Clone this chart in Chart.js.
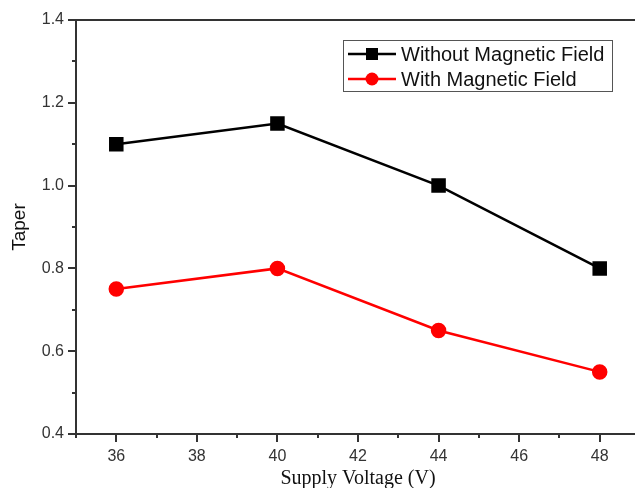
<!DOCTYPE html>
<html>
<head>
<meta charset="utf-8">
<script src="https://cdn.jsdelivr.net/npm/chart.js@4"></script>
<style>
  html, body { margin: 0; padding: 0; background: #fff; overflow: hidden; }
  #wrap { width: 640px; height: 488px; }
</style>
</head>
<body>
<div id="wrap"><canvas id="taper" width="640" height="488"></canvas></div>
<script>
// data
const voltages = [36, 40, 44, 48];
const withoutField = [1.1, 1.15, 1.0, 0.8];
const withField = [0.75, 0.8, 0.65, 0.55];
const seriesNames = ["Without Magnetic Field", "With Magnetic Field"];

const xTickLabels = [36, 38, 40, 42, 44, 46, 48];
const yTickLabels = [0.4, 0.6, 0.8, 1.0, 1.2, 1.4];

function pts(ys) {
  return voltages.map(function (v, i) { return { x: v, y: ys[i] }; });
}

// tick marks (major/minor) + top frame line + boxed legend
const frame = {
  id: "frame",
  afterDraw: function (chart) {
    const ctx = chart.ctx;
    const a = chart.chartArea;
    const xs = chart.scales.x;
    const ys = chart.scales.y;
    ctx.save();
    ctx.strokeStyle = "#333";
    ctx.lineWidth = 2;
    ctx.beginPath();
    ctx.moveTo(a.left, a.top);
    ctx.lineTo(a.right + 2, a.top);
    xs.ticks.forEach(function (t) {
      const px = Math.round(xs.getPixelForValue(t.value));
      const len = t.value % 2 === 0 ? 8 : 4;
      ctx.moveTo(px, a.bottom);
      ctx.lineTo(px, a.bottom + len);
    });
    ys.ticks.forEach(function (t) {
      const py = Math.round(ys.getPixelForValue(t.value));
      const major = Math.abs(Math.round(t.value * 10) % 2) === 0;
      ctx.moveTo(a.left, py);
      ctx.lineTo(a.left - (major ? 8 : 4), py);
    });
    ctx.stroke();

    // legend box
    const bx = 343, by = 40, bw = 269, bh = 51;
    ctx.fillStyle = "#fff";
    ctx.fillRect(bx, by, bw, bh);
    ctx.strokeStyle = "#555";
    ctx.lineWidth = 1;
    ctx.strokeRect(bx + 0.5, by + 0.5, bw, bh);
    ctx.font = "20px 'Liberation Sans', Arial, sans-serif";
    ctx.textBaseline = "middle";
    chart.data.datasets.forEach(function (ds, i) {
      const cy = by + 14 + i * 25;
      ctx.strokeStyle = ds.borderColor;
      ctx.lineWidth = 2.5;
      ctx.beginPath();
      ctx.moveTo(bx + 5, cy);
      ctx.lineTo(bx + 53, cy);
      ctx.stroke();
      ctx.fillStyle = ds.borderColor;
      if (ds.pointStyle === "rect") {
        ctx.fillRect(bx + 23, cy - 6, 12, 12);
      } else {
        ctx.beginPath();
        ctx.arc(bx + 29, cy, 6.5, 0, Math.PI * 2);
        ctx.fill();
      }
      ctx.fillStyle = "#111";
      ctx.fillText(ds.label, bx + 58, cy + 1);
    });
    ctx.restore();
  }
};

document.addEventListener("DOMContentLoaded", function () {
  const el = document.getElementById("taper");
  new Chart(el, {
    type: "line",
    data: {
      datasets: [
        {
          label: seriesNames[0],
          data: pts(withoutField),
          borderColor: "#000",
          backgroundColor: "#000",
          borderWidth: 2.5,
          pointStyle: "rect",
          pointRadius: 8.5,
          pointHoverRadius: 8.5,
          fill: false,
          tension: 0,
        },
        {
          label: seriesNames[1],
          data: pts(withField),
          borderColor: "#ff0000",
          backgroundColor: "#ff0000",
          borderWidth: 2.5,
          pointStyle: "circle",
          pointRadius: 6.5,
          pointHoverRadius: 6.5,
          fill: false,
          tension: 0,
        },
      ],
    },
    options: {
      responsive: false,
      animation: false,
      events: [],
      layout: { autoPadding: false, padding: { top: 20, right: 0, left: 0, bottom: 0 } },
      scales: {
        x: {
          type: "linear",
          min: 35,
          max: 49,
          afterFit: function (s) { s.height = 54; s.paddingLeft = 0; s.paddingRight = 0; },
          afterBuildTicks: function (s) {
            const t = [];
            for (let v = 35; v <= 49; v++) t.push({ value: v });
            s.ticks = t;
          },
          grid: { display: true, drawOnChartArea: false, drawTicks: true, tickLength: 13, color: "rgba(0,0,0,0)" },
          border: { display: true, color: "#333", width: 2 },
          ticks: {
            padding: 0,
            color: "#333",
            font: { family: "'Liberation Sans', Arial, sans-serif", size: 16 },
            callback: function (v) { return xTickLabels.indexOf(v) >= 0 ? String(v) : ""; },
          },
          title: {
            display: true,
            text: "Supply Voltage (V)",
            color: "#111",
            font: { family: "'Liberation Serif', 'Times New Roman', serif", size: 20 },
            padding: { top: 0, bottom: -3 },
          },
        },
        y: {
          min: 0.4,
          max: 1.4,
          afterFit: function (s) { s.width = 76; s.paddingTop = 0; s.paddingBottom = 0; },
          afterBuildTicks: function (s) {
            const t = [];
            for (let k = 4; k <= 14; k++) t.push({ value: k / 10 });
            s.ticks = t;
          },
          grid: { display: false, drawTicks: false },
          border: { display: true, color: "#333", width: 2 },
          ticks: {
            padding: 12,
            color: "#333",
            font: { family: "'Liberation Sans', Arial, sans-serif", size: 16 },
            callback: function (v) {
              const hit = yTickLabels.find(function (l) { return Math.abs(l - v) < 1e-6; });
              return hit === undefined ? "" : hit.toFixed(1);
            },
          },
          title: {
            display: true,
            text: "Taper",
            color: "#111",
            font: { family: "'Liberation Sans', Arial, sans-serif", size: 19 },
            padding: { top: 8, bottom: 4 },
          },
        },
      },
      plugins: {
        legend: { display: false },
        tooltip: { enabled: false },
      },
    },
    plugins: [frame],
  });
});
</script>
</body>
</html>
